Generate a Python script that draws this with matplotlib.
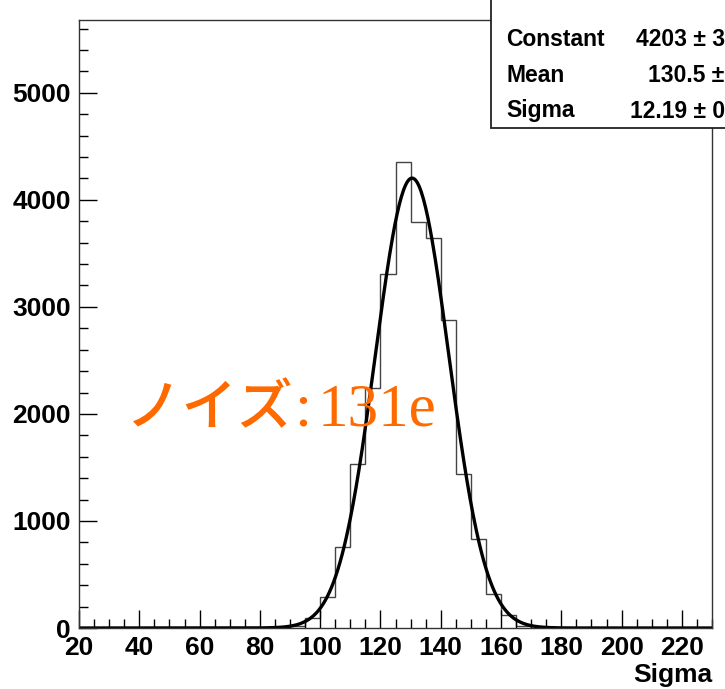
import numpy as np
import matplotlib.pyplot as plt
from matplotlib.ticker import MultipleLocator
from matplotlib.patches import Rectangle

# histogram (bin width 5, range 20-230)
bin_edges = np.arange(20, 235, 5)
peak_lo = [90, 95, 100, 105, 110, 115, 120, 125, 130, 135, 140, 145, 150, 155, 160, 165]
peak_counts = [15, 95, 285, 757, 1535, 2245, 3305, 4355, 3795, 3640, 2880, 1435, 830, 315, 120, 20]

# gaus fit parameters from the stats box
fit_const = 4203
fit_mean = 130.5
fit_sigma = 12.19

counts = np.zeros(len(bin_edges) - 1)
for lo, c in zip(peak_lo, peak_counts):
    counts[(lo - 20) // 5] = c

W, H = 725, 689
fig = plt.figure(figsize=(W / 100, H / 100), dpi=100)
ax = fig.add_axes([79 / W, 1 - 628 / H, (712 - 79) / W, (628 - 20) / H])

ax.stairs(counts, bin_edges, color='#444444', lw=1.0)
xf = np.linspace(20, 230, 600)
yf = fit_const * np.exp(-0.5 * ((xf - fit_mean) / fit_sigma) ** 2)
ax.plot(xf, yf, color='black', lw=2.4)

ax.set_xlim(20, 230)
ax.set_ylim(0, 5680)
ax.xaxis.set_major_locator(MultipleLocator(20))
ax.xaxis.set_minor_locator(MultipleLocator(5))
ax.yaxis.set_major_locator(MultipleLocator(1000))
ax.yaxis.set_minor_locator(MultipleLocator(200))
ax.tick_params(which='major', direction='in', length=13, width=1, labelsize=19, pad=6)
ax.tick_params(which='minor', direction='in', length=6.5, width=1)
for lab in ax.get_xticklabels() + ax.get_yticklabels():
    lab.set_family('Liberation Sans')
    lab.set_fontweight('bold')
for s in ax.spines.values():
    s.set_linewidth(1)
    s.set_color('#333333')

ax.set_xlabel('Sigma', loc='right', fontsize=19, fontweight='bold', family='Liberation Sans', labelpad=2)

# stats box (cut off at the right edge)
fig.patches.append(Rectangle((491 / W, 1 - 128 / H), 0.5, 0.3, transform=fig.transFigure,
                             facecolor='white', edgecolor='#222222', lw=1.3, zorder=5))
stats_names = ['Constant', 'Mean', 'Sigma']
stats_vals = ['4203 \u00b1 35.1', '130.5 \u00b1 0.1', '12.19 \u00b1 0.09']
stats_val_x = [636, 648, 630]
stats_y = [40, 75, 111]
for name, val, vx, vy in zip(stats_names, stats_vals, stats_val_x, stats_y):
    fig.text(506 / W, 1 - vy / H, name, fontsize=16.5, fontweight='bold',
             family='Liberation Sans', va='center', zorder=6)
    fig.text(vx / W, 1 - vy / H, val, fontsize=16.5, fontweight='bold',
             family='Liberation Sans', va='center', zorder=6)

# orange annotation
orange = '#FF6A00'
fig.text(126 / W, 1 - 425 / H, 'ノイズ', fontsize=40, color=orange, fontweight='medium',
         family='Noto Sans CJK JP', va='baseline')
fig.text(294 / W, 1 - 425 / H, ':', fontsize=44, color=orange,
         family='Liberation Serif', va='baseline')
fig.text(318 / W, 1 - 425 / H, '131e', fontsize=44, color=orange,
         family='Liberation Serif', va='baseline')

fig.savefig('out.png', dpi=100)
